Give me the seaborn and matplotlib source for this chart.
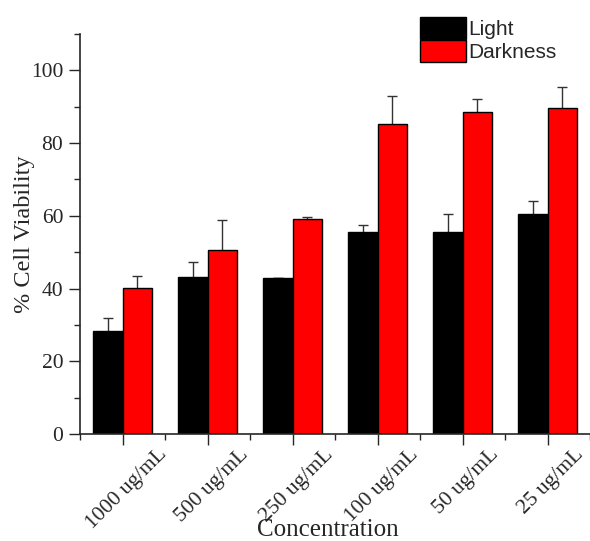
import matplotlib
matplotlib.use("Agg")
import matplotlib.pyplot as plt
import matplotlib.transforms as mtransforms
import seaborn as sns
import pandas as pd
from matplotlib.ticker import MultipleLocator, FixedLocator

categories = ["1000 ug/mL", "500 ug/mL", "250 ug/mL", "100 ug/mL", "50 ug/mL", "25 ug/mL"]
light = [28.3, 43.2, 42.9, 55.5, 55.5, 60.4]
light_err = [3.7, 4.1, 0.1, 2.0, 5.0, 3.6]
dark = [40.1, 50.6, 59.0, 85.3, 88.5, 89.7]
dark_err = [3.3, 8.2, 0.7, 7.7, 3.7, 5.7]
series = ["Light", "Darkness"]
colors = {"Light": "#000000", "Darkness": "#ff0000"}

df = pd.DataFrame({
    "Concentration": categories * 2,
    "Condition": ["Light"] * len(categories) + ["Darkness"] * len(categories),
    "Value": light + dark,
})

sns.set_style("ticks")
plt.rcParams["font.family"] = ["Liberation Serif", "DejaVu Serif"]

fig = plt.figure(figsize=(5.9, 5.41), dpi=100)
ax = fig.add_axes([80 / 590, 1 - 434 / 541, 1 - 80 / 590, (434 - 34) / 541])

sns.barplot(data=df, x="Concentration", y="Value", hue="Condition",
            hue_order=series, palette=colors, width=0.7, edgecolor="black",
            linewidth=1.0, errorbar=None, ax=ax, saturation=1)

bar_containers = list(ax.containers)
for cont, errs in zip(bar_containers, [light_err, dark_err]):
    xs = [b.get_x() + b.get_width() / 2 for b in cont]
    hs = [b.get_height() for b in cont]
    ax.errorbar(xs, hs, yerr=errs, fmt="none", ecolor="#333333",
                elinewidth=1.0, capsize=3.5, capthick=1.0, zorder=0.5)

ax.set_xlim(-0.5, len(categories) - 0.5)
ax.set_ylim(0, 110)
ax.yaxis.set_major_locator(MultipleLocator(20))
ax.yaxis.set_minor_locator(MultipleLocator(10))
ax.xaxis.set_minor_locator(FixedLocator([i - 0.5 for i in range(len(categories) + 1)]))
ax.tick_params(axis="both", which="major", direction="out", length=8, width=1)
ax.tick_params(axis="y", which="major", labelsize=15.5, pad=4)
ax.tick_params(axis="x", which="major", pad=0)
ax.tick_params(axis="both", which="minor", direction="out", length=4, width=1)
sns.despine(ax=ax)
for s in ["left", "bottom"]:
    ax.spines[s].set_linewidth(1.2)

shift = mtransforms.ScaledTranslation(4 / 100, 0, fig.dpi_scale_trans)
for lab in ax.get_xticklabels():
    lab.set_rotation(45)
    lab.set_ha("center")
    lab.set_va("top")
    lab.set_fontsize(15.5)
    lab.set_transform(lab.get_transform() + shift)

ax.set_ylabel("% Cell Viability", fontsize=17.5)
ax.yaxis.set_label_coords(-0.088, 0.5)
ax.set_xlabel("Concentration", fontsize=18)
ax.xaxis.set_label_coords(0.486, -0.213)

if ax.get_legend() is not None:
    ax.get_legend().remove()
handles = [c.patches[0] for c in bar_containers]
leg = fig.legend(handles, series, loc="upper left", bbox_to_anchor=(420 / 590, 1 - 17 / 541),
                 bbox_transform=fig.transFigure, frameon=False, borderpad=0, borderaxespad=0,
                 handlelength=2.2, handleheight=1.25, labelspacing=0.05, handletextpad=0.1,
                 prop={"family": ["Liberation Sans", "DejaVu Sans"], "size": 15})

fig.savefig("out.png", dpi=100)
